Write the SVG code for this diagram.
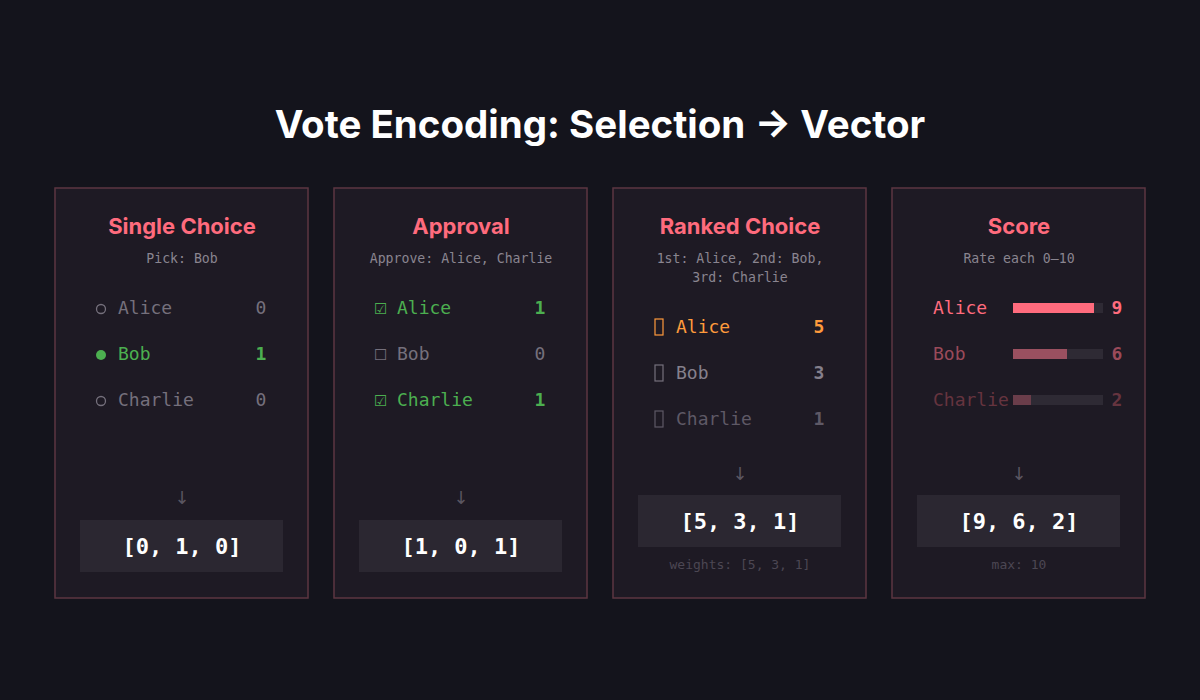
<svg xmlns="http://www.w3.org/2000/svg" width="1200" height="700" viewBox="0 0 1200 700">
<style>
.bg{fill:#14141c}
.panel{fill:#1e1a24;stroke:#5c3641;stroke-width:1.5}
.title{font-family:Inter,"Liberation Sans",sans-serif;font-weight:700;font-size:38.5px;fill:#ffffff;text-anchor:middle}
.ptitle{font-family:Inter,"Liberation Sans",sans-serif;font-weight:700;font-size:22px;fill:#ff6b7d;text-anchor:middle}
.sub{font-family:"DejaVu Sans Mono","Liberation Mono",monospace;font-size:13.2px;fill:#8a8590;text-anchor:middle}
.row{font-family:"DejaVu Sans Mono","Liberation Mono",monospace;font-size:18px}
.val{font-family:"DejaVu Sans Mono","Liberation Mono",monospace;font-size:18px;text-anchor:middle}
.chk{font-family:"DejaVu Sans","Noto Sans",sans-serif;font-size:15px}
.b{font-weight:700}
.gray{fill:#75707c}
.green{fill:#4caf50}
.orange{fill:#ff9a3c}
.arrow{font-family:"DejaVu Sans",sans-serif;font-size:18px;fill:#5a5560;text-anchor:middle}
.vbox{fill:#2b2731}
.vtext{font-family:"DejaVu Sans Mono","Liberation Mono",monospace;font-weight:700;font-size:22px;fill:#ffffff;text-anchor:middle}
.cap{font-family:"DejaVu Sans Mono","Liberation Mono",monospace;font-size:13px;fill:#4c4753;text-anchor:middle}
.track{fill:#2e2a34}
</style>
<rect class="bg" x="0" y="0" width="1200" height="700"/>
<text class="title" x="600" y="138">Vote Encoding: Selection → Vector</text>

<g id="single">
<rect class="panel" x="55" y="188" width="253" height="410"/>
<text class="ptitle" x="182" y="234">Single Choice</text>
<text class="sub" x="182" y="263">Pick: Bob</text>
<circle cx="101" cy="309" r="4.5" fill="none" stroke="#75707c" stroke-width="1.3"/>
<text class="row gray" x="118" y="314">Alice</text>
<text class="val gray" x="261" y="314">0</text>
<circle cx="101" cy="355" r="5" fill="#4caf50"/>
<text class="row green" x="118" y="360">Bob</text>
<text class="val green b" x="261" y="360">1</text>
<circle cx="101" cy="401" r="4.5" fill="none" stroke="#75707c" stroke-width="1.3"/>
<text class="row gray" x="118" y="406">Charlie</text>
<text class="val gray" x="261" y="406">0</text>
<text class="arrow" x="182" y="504">↓</text>
<rect class="vbox" x="80" y="520" width="203" height="52"/>
<text class="vtext" x="182" y="554">[0, 1, 0]</text>
</g>

<g id="approval">
<rect class="panel" x="334" y="188" width="253" height="410"/>
<text class="ptitle" x="461" y="234">Approval</text>
<text class="sub" x="461" y="263">Approve: Alice, Charlie</text>
<text class="chk green" x="374" y="314">☑</text>
<text class="row green" x="397" y="314">Alice</text>
<text class="val green b" x="540" y="314">1</text>
<text class="chk gray" x="374" y="360">☐</text>
<text class="row gray" x="397" y="360">Bob</text>
<text class="val gray" x="540" y="360">0</text>
<text class="chk green" x="374" y="406">☑</text>
<text class="row green" x="397" y="406">Charlie</text>
<text class="val green b" x="540" y="406">1</text>
<text class="arrow" x="461" y="504">↓</text>
<rect class="vbox" x="359" y="520" width="203" height="52"/>
<text class="vtext" x="461" y="554">[1, 0, 1]</text>
</g>

<g id="ranked">
<rect class="panel" x="613" y="188" width="253" height="410"/>
<text class="ptitle" x="740" y="234">Ranked Choice</text>
<text class="sub" x="740" y="263">1st: Alice, 2nd: Bob,</text>
<text class="sub" x="740" y="282">3rd: Charlie</text>
<rect x="655" y="319" width="8" height="16" fill="none" stroke="#ff9a3c" stroke-width="1.2"/>
<text class="row orange" x="676" y="333">Alice</text>
<text class="val orange b" x="819" y="333">5</text>
<rect x="655" y="365" width="8" height="16" fill="none" stroke="#75707c" stroke-width="1.2"/>
<text class="row" x="676" y="379" fill="#85808c">Bob</text>
<text class="val b" x="819" y="379" fill="#85808c">3</text>
<rect x="655" y="411" width="8" height="16" fill="none" stroke="#5e5966" stroke-width="1.2"/>
<text class="row" x="676" y="425" fill="#5e5966">Charlie</text>
<text class="val b" x="819" y="425" fill="#5e5966">1</text>
<text class="arrow" x="740" y="480">↓</text>
<rect class="vbox" x="638" y="495" width="203" height="52"/>
<text class="vtext" x="740" y="529">[5, 3, 1]</text>
<text class="cap" x="740" y="569">weights: [5, 3, 1]</text>
</g>

<g id="score">
<rect class="panel" x="892" y="188" width="253" height="410"/>
<text class="ptitle" x="1019" y="234">Score</text>
<text class="sub" x="1019" y="263">Rate each 0–10</text>
<text class="row" x="933" y="314" fill="#ff6b7d">Alice</text>
<rect class="track" x="1013" y="303" width="90" height="10"/>
<rect x="1013" y="303" width="81" height="10" fill="#ff6b7d"/>
<text class="val b" x="1117" y="314" fill="#ff6b7d">9</text>
<text class="row" x="933" y="360" fill="#9a4a5a">Bob</text>
<rect class="track" x="1013" y="349" width="90" height="10"/>
<rect x="1013" y="349" width="54" height="10" fill="#9a5060"/>
<text class="val b" x="1117" y="360" fill="#9a4a5a">6</text>
<text class="row" x="933" y="406" fill="#66343f">Charlie</text>
<rect class="track" x="1013" y="395" width="90" height="10"/>
<rect x="1013" y="395" width="18" height="10" fill="#6a3d4a"/>
<text class="val b" x="1117" y="406" fill="#66343f">2</text>
<text class="arrow" x="1019" y="480">↓</text>
<rect class="vbox" x="917" y="495" width="203" height="52"/>
<text class="vtext" x="1019" y="529">[9, 6, 2]</text>
<text class="cap" x="1019" y="569">max: 10</text>
</g>
</svg>
